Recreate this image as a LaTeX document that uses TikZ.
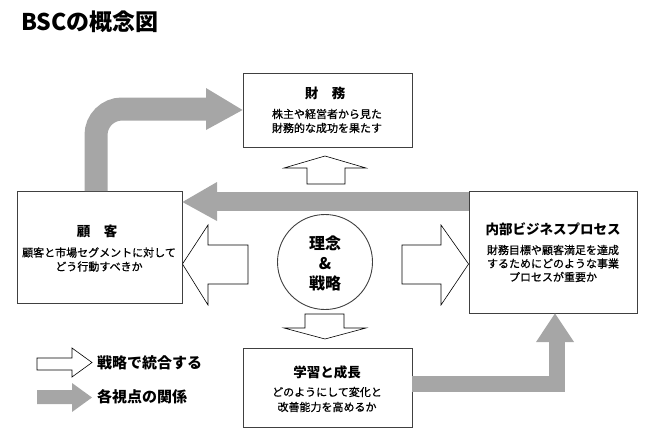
\documentclass[tikz,border=0pt]{standalone}
\usepackage{fontspec}
\setmainfont{Noto Sans CJK JP}
\newfontfamily\subfont[FakeBold=0.7]{Noto Sans CJK JP}
\definecolor{bandgray}{HTML}{A6A6A6}
\definecolor{edge}{HTML}{404040}
\tikzset{
  box/.style={draw=edge, line width=0.9pt, fill=white, rectangle, inner sep=0pt},
  ttl/.style={font=\fontsize{13.5}{16}\selectfont\bfseries, inner sep=0pt},
  sub/.style={font=\subfont\fontsize{11}{14}\selectfont, align=center, inner sep=0pt},
  outarrow/.style={draw=black, line width=0.6pt, fill=white, line join=miter},
  band/.style={draw=bandgray, line cap=butt},
  bandhead/.style={fill=bandgray},
  legtext/.style={font=\fontsize{15}{18}\selectfont\bfseries, anchor=west, inner sep=0pt}
}
\begin{document}
\begin{tikzpicture}[x=1pt,y=-1pt]
\useasboundingbox (0,0) rectangle (650,436);
% title
\node[anchor=west, inner sep=0pt, font=\fontsize{23}{26}\selectfont\bfseries] (title) at (21,22) {BSCの概念図};

% boxes
\node[box, minimum width=169pt, minimum height=74pt] (fin) at (327.5,110) {};
\node[box, minimum width=165pt, minimum height=112pt] (cust) at (99.5,247) {};
\node[box, minimum width=168pt, minimum height=122pt] (proc) at (553,252) {};
\node[box, minimum width=169pt, minimum height=79pt] (learn) at (327.5,387.5) {};
\node[draw=edge, line width=0.9pt, circle, minimum size=95pt, inner sep=0pt] (core) at (325,262) {};

% texts
\node[ttl] (finT) at (325,93) {財\quad 務};
\node[sub] (finS) at (327,121) {株主や経営者から見た\\財務的な成功を果たす};
\node[ttl] (custT) at (97,231) {顧\quad 客};
\node[sub] (custS) at (99,259.5) {顧客と市場セグメントに対して\\どう行動すべきか};
\node[ttl] (procT) at (553,229) {内部ビジネスプロセス};
\node[sub, font=\subfont\fontsize{11}{13.5}\selectfont] (procS) at (553,263.5) {財務目標や顧客満足を達成\\するためにどのような事業\\プロセスが重要か};
\node[ttl] (learnT) at (327,372) {学習と成長};
\node[sub, font=\subfont\fontsize{11}{15}\selectfont] (learnS) at (327,399.5) {どのようにして変化と\\改善能力を高めるか};
\node[font=\fontsize{16}{20}\selectfont\bfseries, align=center, inner sep=0pt] (coreT) at (325,263) {理念\\\&\\戦略};

% named points for connectors
\coordinate (a1) at (96,191);
\coordinate (a2) at (96,109);
\coordinate (a3) at (206,109);
\coordinate (b1) at (469,201.5);
\coordinate (b2) at (217,201.5);
\coordinate (c1) at (412,384);
\coordinate (c2) at (557,384);
\coordinate (c3) at (557,342);

% gray relation arrows
\draw[band, line width=23pt, rounded corners=26pt] (a1) -- (a2) -- (a3);
\fill[bandhead] (206,88) -- (fin.west) -- (206,130) -- cycle;
\draw[band, line width=19pt] (b1) -- (b2);
\fill[bandhead] (217,182) -- (cust.east |- 0,202) -- (217,221) -- cycle;
\draw[band, line width=16pt, line join=miter] (c1) -- (c2) -- (c3);
\fill[bandhead] (536,342) -- (proc.south -| 555,0) -- (574,342) -- cycle;

% outline strategy arrows
\draw[outarrow] (307,184) -- (307,168) -- (284,168) -- (325,156) -- (366,168) -- (345,168) -- (345,184) -- cycle;
\draw[outarrow] (305,314) -- (305,328) -- (284,328) -- (325,339) -- (366,328) -- (344,328) -- (344,314) -- cycle;
\draw[outarrow] (248,245) -- (208,245) -- (208,225) -- (cust.east |- 0,264) -- (208,305) -- (208,284) -- (248,284) -- cycle;
\draw[outarrow] (402,245) -- (441,245) -- (441,225) -- (proc.west |- 0,264) -- (441,305) -- (441,284) -- (402,284) -- cycle;

% legend
\draw[outarrow] (37,358) -- (72,358) -- (72,348) -- (92,362.5) -- (72,377) -- (72,370) -- (37,370) -- cycle;
\fill[bandhead] (37,390) -- (72,390) -- (72,383) -- (92,397.5) -- (72,412) -- (72,404) -- (37,404) -- cycle;
\node[legtext] (leg1) at (97,363) {戦略で統合する};
\node[legtext] (leg2) at (97,397) {各視点の関係};
\end{tikzpicture}
\end{document}
